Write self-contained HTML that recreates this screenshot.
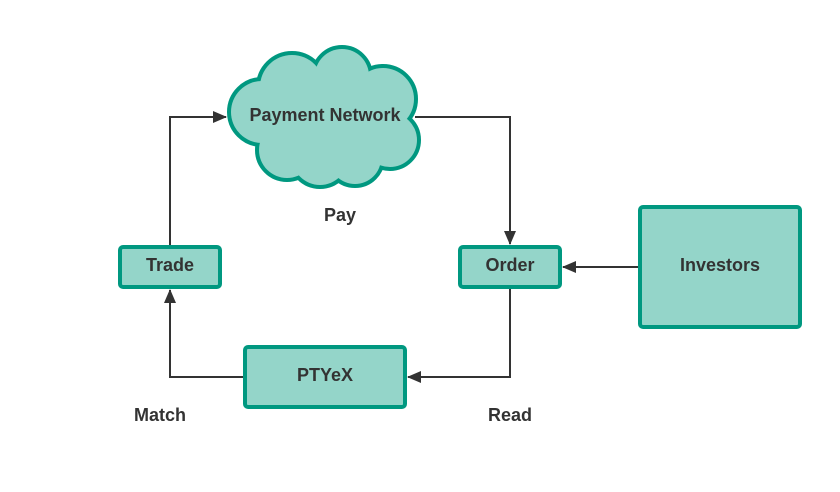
<!DOCTYPE html>
<html><head><style>body{margin:0;background:#fff}</style></head><body>
<svg width="840" height="487" xmlns="http://www.w3.org/2000/svg" font-family="Liberation Sans, sans-serif" font-weight="bold" fill="#333">
<defs><marker id="a" markerWidth="14" markerHeight="12" refX="13" refY="6" orient="auto" markerUnits="userSpaceOnUse"><path d="M0,0 L14,6 L0,12 Z" fill="#333"/></marker></defs>
<g stroke="#333" stroke-width="2" fill="none">
<path d="M170,247 V117 H226" marker-end="url(#a)"/>
<path d="M415,117 H510 V244" marker-end="url(#a)"/>
<path d="M640,267 H563" marker-end="url(#a)"/>
<path d="M510,287 V377 H408" marker-end="url(#a)"/>
<path d="M245,377 H170 V290" marker-end="url(#a)"/>
</g>
<g stroke="#009880" stroke-width="8" fill="#009880">
<circle cx="262" cy="112" r="31"/><circle cx="292" cy="87" r="32"/><circle cx="342" cy="76" r="27"/><circle cx="383" cy="99" r="31"/><circle cx="390" cy="140" r="27"/><circle cx="355" cy="158" r="26"/><circle cx="320" cy="157" r="28"/><circle cx="287" cy="150" r="28"/><circle cx="330" cy="118" r="45"/>
</g>
<g fill="#94d5c9">
<circle cx="262" cy="112" r="31"/><circle cx="292" cy="87" r="32"/><circle cx="342" cy="76" r="27"/><circle cx="383" cy="99" r="31"/><circle cx="390" cy="140" r="27"/><circle cx="355" cy="158" r="26"/><circle cx="320" cy="157" r="28"/><circle cx="287" cy="150" r="28"/><circle cx="330" cy="118" r="45"/>
</g>
<g fill="#94d5c9" stroke="#009880" stroke-width="4">
<rect x="120" y="247" width="100" height="40" rx="3"/>
<rect x="460" y="247" width="100" height="40" rx="3"/>
<rect x="245" y="347" width="160" height="60" rx="3"/>
<rect x="640" y="207" width="160" height="120" rx="3"/>
</g>
<g font-size="18" text-anchor="middle">
<text x="325" y="121">Payment Network</text>
<text x="170" y="271">Trade</text>
<text x="510" y="271">Order</text>
<text x="325" y="381">PTYeX</text>
<text x="720" y="271">Investors</text>
<text x="340" y="221">Pay</text>
<text x="160" y="421">Match</text>
<text x="510" y="421">Read</text>
</g>
</svg>
</body></html>
